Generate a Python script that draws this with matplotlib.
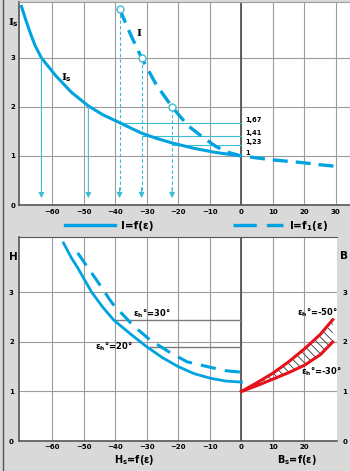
import matplotlib.pyplot as plt
from matplotlib.lines import Line2D

plt.rcParams['font.family'] = ['DejaVu Sans']
plt.rcParams['font.weight'] = 'bold'
plt.rcParams['mathtext.default'] = 'bf'
plt.rcParams['hatch.linewidth'] = 0.6

BLUE = '#00a3e0'
THIN = '#3cbcd4'
RED = '#e5121b'
GRID = '#9c9c9c'
DARK = '#555555'

# upper diagram: I_s (solid) and I (dashed) against epsilon
eps_is = [-70, -68.5, -67, -65.5, -63.5, -61, -59, -54, -48.6, -44, -38.7, -35, -31.7, -27, -22, -15, -8, 0]
is_vals = [4.08, 3.78, 3.5, 3.25, 3.0, 2.8, 2.64, 2.3, 2.02, 1.84, 1.68, 1.565, 1.465, 1.36, 1.265, 1.155, 1.07, 1.0]

eps_i = [-38.7, -35, -31.7, -27, -22, -17, -12, -8, -4, 0, 5, 10, 15, 20, 25, 30]
i_vals = [4.0, 3.45, 3.0, 2.45, 2.0, 1.62, 1.37, 1.19, 1.07, 1.0, 0.96, 0.92, 0.89, 0.86, 0.82, 0.79]

# projections from the I curve down and across to the I_s curve
eps_proj = [-38.7, -31.7, -22]
i_proj = [4.0, 3.0, 2.0]
is_proj = [1.67, 1.41, 1.23]
is_labels = ['1,67', '1,41', '1,23', '1']
is_label_vals = [1.67, 1.41, 1.23, 1.0]

eps_solid_arrows = [-63.5, -48.6]
is_solid_arrows = [3.0, 2.0]

# lower diagram: H_s curves and B_s wedge
eps_h = [-56.5, -54, -52, -49.5, -47.5, -44, -40.5, -35, -30, -25, -20, -15, -10, -5, 0]
h_solid = [4.0, 3.7, 3.5, 3.22, 3.0, 2.7, 2.44, 2.15, 1.9, 1.68, 1.5, 1.36, 1.27, 1.21, 1.19]

eps_hd = [-52, -46, -41, -34.5, -29, -23, -17.3, -10, -5, 0]
h_dashed = [3.8, 3.25, 2.78, 2.34, 2.04, 1.8, 1.6, 1.49, 1.42, 1.39]

eps_hlines = [-40.5, -30]
h_hlines = [2.44, 1.9]

eps_b = [0, 5, 10, 15, 20, 25, 29]
b_upper = [1.0, 1.18, 1.37, 1.6, 1.86, 2.15, 2.45]
b_lower = [1.0, 1.12, 1.25, 1.38, 1.53, 1.74, 2.0]

W, H = 350, 471
fig = plt.figure(figsize=(W / 100, H / 100), dpi=100, facecolor='#d9d9d9')


def box(l, t, r, b):
    return [l / W, 1 - b / H, (r - l) / W, (b - t) / H]


ax1 = fig.add_axes(box(19.4, 2, 350, 205))
ax2 = fig.add_axes(box(19.4, 237, 337, 441))

for ax in (ax1, ax2):
    ax.set_facecolor('white')
    ax.grid(True, color=GRID, lw=0.8)
    ax.set_axisbelow(True)
    ax.tick_params(length=0, labelsize=5, pad=3)
    for s in ('left', 'bottom'):
        ax.spines[s].set_color(DARK)
        ax.spines[s].set_linewidth(1.2)
    ax.spines['right'].set_visible(False)
    ax.spines['top'].set_color(DARK)
    ax.axvline(0, color=DARK, lw=1.3, zorder=1.5)
    ax.set_yticks([0, 1, 2, 3])

ax1.set_xlim(-70.5, 34.5)
ax1.set_ylim(0, 4.14)
ax1.set_xticks(range(-60, 40, 10))
ax1.spines['top'].set_color(GRID)

ax2.set_xlim(-70.5, 30.35)
ax2.set_ylim(0, 4.12)
ax2.set_xticks(range(-60, 30, 10))
ax2.tick_params(axis='x', pad=2)
ax2.tick_params(axis='y', labelright=True, pad=4)

# ---- upper diagram
ax1.plot(eps_is, is_vals, color=BLUE, lw=2.2, solid_capstyle='butt', zorder=3)
ax1.plot(eps_i, i_vals, color=BLUE, lw=2.4, ls=(0, (4.5, 2.4)), zorder=3)

for e, v in zip(eps_solid_arrows, is_solid_arrows):
    ax1.annotate('', xy=(e, 0.14), xytext=(e, v),
                 arrowprops=dict(arrowstyle='-|>', color=THIN, lw=0.8, mutation_scale=8,
                                 shrinkA=0, shrinkB=0))

for e, v, s in zip(eps_proj, i_proj, is_proj):
    ax1.plot([e, e], [0.3, v], color=THIN, lw=0.8, ls=(0, (3, 2)), zorder=2)
    ax1.annotate('', xy=(e, 0.14), xytext=(e, 0.35),
                 arrowprops=dict(arrowstyle='-|>', color=THIN, lw=0.8, mutation_scale=8,
                                 shrinkA=0, shrinkB=0))
    ax1.plot([e, 0], [s, s], color=THIN, lw=0.8, zorder=2)

ax1.plot(eps_proj, i_proj, ls='none', marker='o', ms=5, mfc='white', mec=THIN, mew=1, zorder=4)

for lab, v in zip(is_labels, is_label_vals):
    ax1.text(1.2, v + 0.06, lab, fontsize=4.8, va='center', ha='left')

ax1.text(-32.4, 3.5, 'I', fontsize=7.5, ha='center', va='center', family='DejaVu Serif')
ax1.text(-55.4, 2.6, 'I$_s$', fontsize=7.5, ha='center', va='center', family='DejaVu Serif')

# ---- lower diagram
ax2.plot(eps_h, h_solid, color=BLUE, lw=2.0, zorder=3)
ax2.plot(eps_hd, h_dashed, color=BLUE, lw=2.2, ls=(0, (5, 3)), zorder=3)
for e, v in zip(eps_hlines, h_hlines):
    ax2.plot([e, 0], [v, v], color='#7a7a7a', lw=1.0, zorder=2)

ax2.text(-28.6, 2.58, r'$\varepsilon_h$°=30°', fontsize=6, ha='center', va='center')
ax2.text(-40.5, 1.9, r'$\varepsilon_h$°=20°', fontsize=6, ha='center', va='center')

ax2.fill_between(eps_b, b_lower, b_upper, facecolor='none', edgecolor='#333333',
                 hatch='\\\\\\\\', lw=0, zorder=2)
ax2.plot(eps_b, b_upper, color=RED, lw=2.2, zorder=3, clip_on=False)
ax2.plot(eps_b, b_lower, color=RED, lw=2.2, zorder=3, clip_on=False)
ax2.text(24.3, 2.6, r'$\varepsilon_h$°=-50°', fontsize=6, ha='center', va='center', clip_on=False)
ax2.text(25.4, 1.39, r'$\varepsilon_h$°=-30°', fontsize=6, ha='center', va='center', clip_on=False)

# axis names and legend
fig.text(13 / W, 1 - 23 / H, 'I$_s$', fontsize=7.5, ha='center', va='center', family='DejaVu Serif')
fig.text(13 / W, 1 - 257 / H, 'H', fontsize=7.5, ha='center', va='center')
fig.text(344 / W, 1 - 256 / H, 'B', fontsize=7.5, ha='center', va='center')
fig.text(134 / W, 1 - 460 / H, 'H$_s$=f(ε)', fontsize=7, ha='center', va='center')
fig.text(297 / W, 1 - 460 / H, 'B$_s$=f(ε)', fontsize=7, ha='center', va='center')

fig.add_artist(Line2D([3 / W, 3 / W], [0, 1], transform=fig.transFigure, color=DARK, lw=1))

handles = [Line2D([], [], color=BLUE, lw=2.4),
           Line2D([], [], color=BLUE, lw=2.4, ls=(0, (7, 3)))]
fig.legend(handles, ['I=f(ε)', 'I=f$_1$(ε)'], loc='center left',
           bbox_to_anchor=(60 / W, 1 - 226 / H), ncol=2, frameon=False, borderpad=0,
           handlelength=4.8, handletextpad=0.6, columnspacing=7.6, fontsize=7.5)

fig.savefig('out.png', dpi=100, facecolor=fig.get_facecolor())
